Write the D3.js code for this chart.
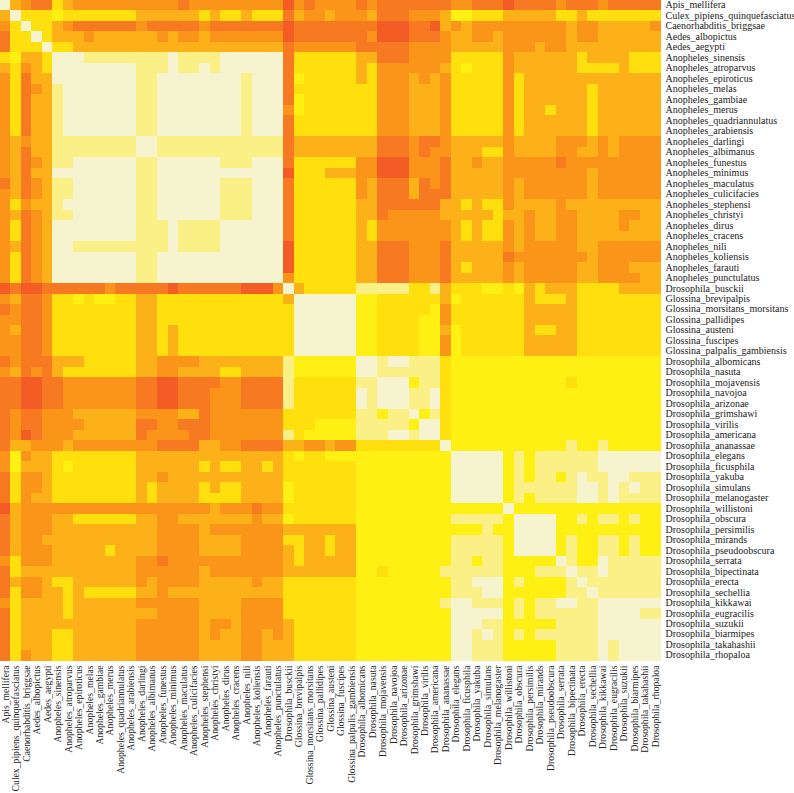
<!DOCTYPE html>
<html>
<head>
<meta charset="utf-8">
<script src="https://cdn.jsdelivr.net/npm/d3@7"></script>
<style>
  html, body { margin: 0; padding: 0; background: #fff; overflow: hidden; }
  .axis text { font-family: "Liberation Serif", serif; fill: #222; }
  .axis-right text { font-size: 10px; }
  .axis-bottom text { font-size: 9.7px; }
  .axis path, .axis line { display: none; }
</style>
</head>
<body>
<div id="chart"></div>
<script>
const species = [
  "Apis_mellifera", "Culex_pipiens_quinquefasciatus", "Caenorhabditis_briggsae", "Aedes_albopictus", "Aedes_aegypti",
  "Anopheles_sinensis", "Anopheles_atroparvus", "Anopheles_epiroticus", "Anopheles_melas", "Anopheles_gambiae",
  "Anopheles_merus", "Anopheles_quadriannulatus", "Anopheles_arabiensis", "Anopheles_darlingi", "Anopheles_albimanus",
  "Anopheles_funestus", "Anopheles_minimus", "Anopheles_maculatus", "Anopheles_culicifacies", "Anopheles_stephensi",
  "Anopheles_christyi", "Anopheles_dirus", "Anopheles_cracens", "Anopheles_nili", "Anopheles_koliensis",
  "Anopheles_farauti", "Anopheles_punctulatus", "Drosophila_busckii", "Glossina_brevipalpis", "Glossina_morsitans_morsitans",
  "Glossina_pallidipes", "Glossina_austeni", "Glossina_fuscipes", "Glossina_palpalis_gambiensis", "Drosophila_albomicans",
  "Drosophila_nasuta", "Drosophila_mojavensis", "Drosophila_navojoa", "Drosophila_arizonae", "Drosophila_grimshawi",
  "Drosophila_virilis", "Drosophila_americana", "Drosophila_ananassae", "Drosophila_elegans", "Drosophila_ficusphila",
  "Drosophila_yakuba", "Drosophila_simulans", "Drosophila_melanogaster", "Drosophila_willistoni", "Drosophila_obscura",
  "Drosophila_persimilis", "Drosophila_mirands", "Drosophila_pseudoobscura", "Drosophila_serrata", "Drosophila_bipectinata",
  "Drosophila_erecta", "Drosophila_sechellia", "Drosophila_kikkawai", "Drosophila_eugracilis", "Drosophila_suzukii",
  "Drosophila_biarmipes", "Drosophila_takahashii", "Drosophila_rhopaloa"
];

// Colour class of each cell. 0 = most similar (cream), 7 = least (red).
// The matrix is symmetric, so each row only holds its cells from the diagonal to the right.
const upperRows = [
  "0456634555 5555555655 5555555756 5555656666 6665566676 6665666566 666",
  "033323333 3334444443 4334333645 5455546665 5542233344 4443343333 333",
  "03345666 6665666665 6666666766 6666667776 6745455555 5555455444 445",
  "0344454 4444454554 5555555766 6666657776 6654455455 5555455444 444",
  "033444 4444444444 4444444655 5555666665 5554444455 5455444444 444",
  "00011 1111110111 1000000633 3333446665 5553333354 4444434444 333",
  "0000 0001110110 1000000633 3333435555 5543233354 4444433334 333",
  "000 0001100000 0001000623 3333435554 5453333353 4444444444 444",
  "00 0001100000 0001000633 3333335554 4453333353 4444443444 444",
  "0 0001100000 0001000623 3333335554 4453333353 4444443444 444",
  "0001100000 0001000523 3333335554 4453333353 4434443444 444",
  "001100000 0001000633 3333335554 4453333353 4444443444 444",
  "01100000 0001000633 3333335554 4453333353 4444443444 444",
  "0011111 1111111644 4444446665 6654444454 4445554545 555",
  "011111 1111111644 4444446665 6554443354 4445544545 555",
  "00000 0111000633 3333557775 5564454455 5556555555 555",
  "0000 0000000733 3444557775 5564444455 5555554555 555",
  "000 0111000633 3333546664 6564444454 5555554555 555",
  "00 0111000633 3333546664 6664444454 5555554555 555",
  "0 0111000633 3333446666 6644343354 4445444444 444",
  "0111000633 3333446555 5544444344 5445544445 544",
  "000000633 3333435555 5554343354 5445544445 444",
  "00000633 3333435555 5554343354 5445544444 444",
  "0000733 3333446665 5564444454 5555544555 555",
  "000733 3333446665 5564444465 5555554555 555",
  "00733 3333446665 5564344454 5555544555 444",
  "0533 3333446665 5564444454 5555544555 544",
  "043 3333111113 3143332232 4344433334 444",
  "00 0000223333 3342333333 4333433333 333",
  "0 0000223333 3253333333 4444433333 333",
  "0000223333 2253333333 4444433333 333",
  "000223333 2242333333 4334433333 333",
  "00223333 2252333333 4444433333 333",
  "0223333 2252333333 4444433333 333",
  "001001 1132222222 2222222222 222",
  "01111 1132222222 2222222222 222",
  "0002 1132222222 2222322222 222",
  "001 1032222222 2222222222 222",
  "01 1032222222 2222222222 222",
  "0 2132222222 2222222222 222",
  "0032222222 2222222222 222",
  "032222222 2222222222 222",
  "02222222 2222122122 222",
  "0000021 2111111000 000",
  "000021 2111111000 000",
  "00021 2112101100 111",
  "0021 1111100101 011",
  "021 2111100101 111",
  "02 2222222222 222",
  "0 0002212112 122",
  "0002222222 222",
  "002122112 122",
  "02122112 122",
  "0122011 111",
  "011011 111",
  "01111 111",
  "0111 111",
  "000 000",
  "00 011",
  "0 000",
  "000",
  "00",
  "0"
];

const classColors = ["#f6f4cf", "#faf086", "#fff014", "#ffdf0d", "#fdb119", "#fa951a", "#f77a22", "#f45c25"];

const WIDTH = 794;
const HEIGHT = 793;
const MATRIX_SIZE = 660.5;

// Mirror the upper triangle into a flat list of cells
const cells = [];
upperRows.forEach((row, i) => {
    const digits = row.replace(/ /g, "");
    if (digits.length !== species.length - i) {
        console.error("bad row", i, digits.length);
    }
    digits.split("").forEach((d, k) => {
        const j = i + k;
        cells.push({ row: species[i], col: species[j], level: +d });
        if (i !== j) {
            cells.push({ row: species[j], col: species[i], level: +d });
        }
    });
});

const svg = d3.select("#chart")
    .append("svg")
    .attr("width", WIDTH)
    .attr("height", HEIGHT);

const xScale = d3.scaleBand().domain(species).range([0, MATRIX_SIZE]);
const yScale = d3.scaleBand().domain(species).range([0, MATRIX_SIZE]);
const color = d3.scaleOrdinal().domain(d3.range(classColors.length)).range(classColors);

// Cells
svg.append("g")
    .attr("shape-rendering", "crispEdges")
    .selectAll("rect")
    .data(cells)
    .enter()
    .append("rect")
    .attr("x", d => xScale(d.col))
    .attr("y", d => yScale(d.row))
    .attr("width", xScale.bandwidth())
    .attr("height", yScale.bandwidth())
    .attr("fill", d => color(d.level));

// Species names on the right
svg.append("g")
    .attr("class", "axis axis-right")
    .attr("transform", `translate(${MATRIX_SIZE},0)`)
    .call(d3.axisRight(yScale).tickSize(0).tickPadding(5));

// Species names underneath, reading upwards
svg.append("g")
    .attr("class", "axis axis-bottom")
    .attr("transform", `translate(0,${MATRIX_SIZE})`)
    .call(d3.axisBottom(xScale).tickSize(0))
    .selectAll("text")
    .style("text-anchor", "end")
    .attr("dx", "-5px")
    .attr("dy", "0")
    .attr("x", 0)
    .attr("y", 0)
    .attr("transform", d => `translate(3.4,0)rotate(-90)`);
</script>
</body>
</html>
